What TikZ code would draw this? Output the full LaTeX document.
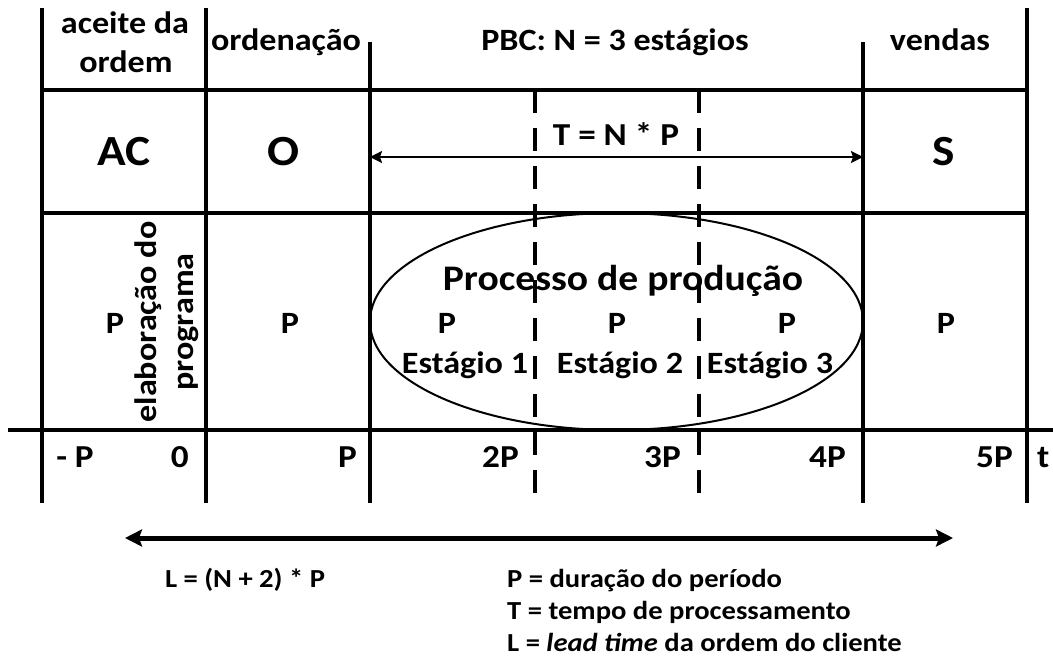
\documentclass[tikz,border=0pt]{standalone}
\usepackage{fontspec}
\setmainfont{Carlito}[FakeStretch=1.1]
\usetikzlibrary{arrows.meta}
\newcommand{\fsz}[1]{\fontsize{#1}{#1}\selectfont}
\begin{document}
\begin{tikzpicture}[x=1pt,y=-1pt,
  vline/.style={line width=4.3pt},
  hline/.style={line width=4pt},
  dline/.style={line width=4pt, dash pattern=on 23pt off 15pt},
  txt/.style={font=\bfseries\fsz{31}, inner sep=0pt, anchor=base},
  big/.style={font=\bfseries\fsz{43}, inner sep=0pt, anchor=base},
  axl/.style={font=\bfseries\fsz{32}, inner sep=0pt, anchor=base east},
  leg/.style={font=\bfseries\fsz{26}, inner sep=0pt, anchor=base west},
  tarrow/.style={line width=2.3pt, {Stealth[length=12pt,width=12pt,inset=2pt]}-{Stealth[length=12pt,width=12pt,inset=2pt]}},
  larrow/.style={line width=5pt, {Stealth[length=17pt,width=17pt,inset=3pt]}-{Stealth[length=17pt,width=17pt,inset=3pt]}}
]
\useasboundingbox (0,0) rectangle (1053,664);
% coordinates
\coordinate (v1t) at (42,8);    \coordinate (v1b) at (42,503);
\coordinate (v2t) at (206,8);   \coordinate (v2b) at (206,503);
\coordinate (v3t) at (370,42);  \coordinate (v3b) at (370,503);
\coordinate (v4t) at (863,42);  \coordinate (v4b) at (863,503);
\coordinate (v5t) at (1027,8);  \coordinate (v5b) at (1027,503);
\coordinate (d1t) at (535,90);  \coordinate (d1b) at (535,503);
\coordinate (d2t) at (699,90);  \coordinate (d2b) at (699,503);
\coordinate (h1l) at (42,90);   \coordinate (h1r) at (1027,90);
\coordinate (h2l) at (42,213);  \coordinate (h2r) at (1027,213);
\coordinate (axl) at (8,430);   \coordinate (axr) at (1053,430);
% ellipse
\draw[line width=2pt] (616.5,321.5) ellipse [x radius=246.5, y radius=108.5];
% grid lines
\foreach \a in {v1,v2,v3,v4,v5} \draw[vline] (\a t) -- (\a b);
\draw[dline] (d1t) -- (d1b);
\draw[dline] (d2t) -- (d2b);
\draw[hline] (h1l) -- (h1r);
\draw[hline] (h2l) -- (h2r);
\draw[hline] (axl) -- (axr);
% T arrow
\coordinate (ta) at (370,157); \coordinate (tb) at (863,157);
\draw[tarrow] (ta) -- (tb);
% L arrow
\coordinate (la) at (125,538); \coordinate (lb) at (953,538);
\draw[larrow] (la) -- (lb);
% headers
\node[txt] (h1a) at (125,33) {aceite da};
\node[txt] (h1b) at (126,72) {ordem};
\node[txt] (h2) at (286,50) {ordenação};
\node[txt] (h3) at (615,50) {PBC: N = 3 estágios};
\node[txt] (h4) at (940,50) {vendas};
% row 2
\node[big] (ac) at (124,165) {AC};
\node[big] (o) at (283,165) {O};
\node[big] (s) at (944,165) {S};
\node[txt, font=\bfseries\fsz{32}] (tnp) at (616,145) {T = N * P};
% row 3
\node[txt, rotate=90] (el1) at (156,322) {elaboração do};
\node[txt, rotate=90] (el2) at (193,322) {programa};
\node[txt, font=\bfseries\fsz{36}] (proc) at (623,290) {Processo de produção};
\foreach \x/\n in {115/p1,290/p2,447/p3,617/p4,787/p5,946/p6}
  \node[txt] (\n) at (\x,333) {P};
\node[txt] (e1) at (465,373) {Estágio 1};
\node[txt] (e2) at (620,373) {Estágio 2};
\node[txt] (e3) at (770,373) {Estágio 3};
% axis labels
\node[axl, anchor=base] (amp) at (75,467) {- P};
\node[axl] (a0) at (189,467) {0};
\node[axl] (a1) at (357,467) {P};
\node[axl] (a2) at (519,467) {2P};
\node[axl] (a3) at (681,467) {3P};
\node[axl] (a4) at (846,467) {4P};
\node[axl] (a5) at (1013,467) {5P};
\node[axl, anchor=base west] (at) at (1037,467) {t};
% legend
\node[leg, anchor=base] (lf) at (245,587) {L = (N + 2) * P};
\node[leg] (lg1) at (507,587) {P = duração do período};
\node[leg] (lg2) at (507,619) {T = tempo de processamento};
\node[leg] (lg3) at (507,651) {L = \textit{lead time} da ordem do cliente};
\end{tikzpicture}
\end{document}
